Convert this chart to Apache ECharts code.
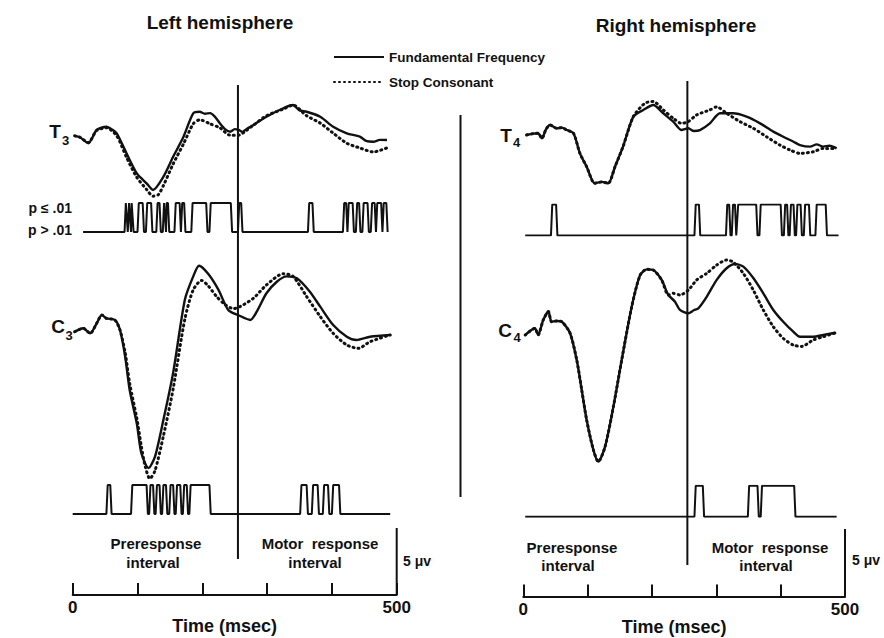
<!DOCTYPE html>
<html><head><meta charset="utf-8">
<script src="https://cdn.jsdelivr.net/npm/echarts@6/dist/echarts.min.js"></script>
<style>html,body{margin:0;padding:0;background:#fff}#c{width:884px;height:638px}</style>
</head><body><div id="c"></div>
<script>
// ---------- data (time in msec, amplitude in microvolts) ----------
const responseTime = 255;
const scaleBarUV = 5;
const tickValues = [0, 100, 200, 300, 400, 500];
const tickLabels = ['0', '', '', '', '', '500'];

const t3Fund = [[3,0.1],[11,0],[24,-0.45],[37,0.54],[52,0.78],[60,0.6],[68,0.29],[83,-1.2],[99,-2.7],[114,-3.44],[124,-3.94],[140,-2.95],[155,-1.46],[171,0.04],[186,1.78],[196,1.9],[204,1.75],[212,1.8],[220,1.5],[227,1.04],[235,0.6],[243,0.41],[250,0.6],[256,0.54],[262,0.4],[268,0.6],[279,0.91],[299,1.53],[325,2.16],[340,2.4],[350,2.0],[361,1.9],[382,1.53],[402,0.78],[423,0.29],[443,0.04],[454,-0.3],[464,-0.34],[474,-0.2],[485,-0.21]];
const t3Stop = [[3,0.1],[11,0],[24,-0.4],[37,0.5],[52,0.7],[68,0.1],[83,-1.5],[99,-3.0],[114,-3.9],[124,-4.4],[132,-4.3],[140,-3.6],[155,-2.0],[171,-0.5],[186,1.0],[196,1.3],[212,1.0],[227,0.7],[243,0.15],[256,0.15],[268,0.5],[279,0.9],[299,1.6],[325,2.1],[340,2.4],[361,1.6],[382,1.05],[402,0.3],[423,-0.45],[443,-0.8],[464,-1.1],[485,-0.8]];

const c3Fund = [[3,-0.13],[16,0.13],[27,-0.25],[37,0.5],[45,1.12],[52,0.87],[65,0.75],[73,0],[81,-2.0],[88,-4.5],[99,-7.0],[106,-9.2],[117,-10.3],[127,-9.45],[140,-6.7],[155,-3.2],[173,2.24],[186,4.0],[195,4.8],[209,4.2],[225,3.0],[240,1.5],[256,1.1],[274,0.75],[284,1.37],[299,2.74],[315,3.6],[330,4.0],[346,3.86],[366,2.86],[382,1.74],[402,0.37],[423,-0.5],[438,-0.75],[459,-0.5],[490,-0.37]];
const c3Stop = [[3,-0.13],[16,0.13],[27,-0.25],[37,0.5],[45,1.12],[52,0.87],[65,0.75],[73,0],[81,-1.7],[88,-4.0],[99,-6.6],[106,-8.7],[112,-10.2],[119,-11.1],[127,-10.5],[140,-7.9],[155,-4.4],[173,0.8],[186,3.0],[199,3.7],[209,3.3],[222,2.5],[235,1.9],[248,1.6],[258,1.74],[279,2.37],[299,3.36],[325,4.2],[340,4.0],[361,2.5],[382,1.0],[402,-0.25],[423,-1.12],[441,-1.37],[459,-0.87],[490,-0.37]];

const t4Fund = [[5,0],[15,0.1],[23,0.13],[29,-0.25],[35,0.4],[41.5,0.75],[52,0.5],[60,0.55],[67.5,0.37],[78,0.13],[88,-1.37],[98.5,-2.37],[111,-3.6],[122,-3.5],[132,-3.6],[142.5,-2.37],[155,-0.87],[171,1.37],[186.5,1.87],[202,2.24],[217.6,1.62],[233,1.0],[246,0.37],[256.5,0.5],[265,0.3],[274.6,0.37],[290,0.87],[305.7,1.62],[326,1.62],[347,1.37],[368,0.87],[388.6,0.25],[404,-0.13],[420,-0.5],[430,-0.75],[445.6,-0.87],[456,-0.7],[466,-0.87],[476,-0.8],[487,-1.0]];
const t4Stop = [[5,0],[15,0.1],[23,0.13],[29,-0.25],[35,0.4],[41.5,0.75],[52,0.5],[60,0.55],[67.5,0.37],[78,0.13],[88,-1.37],[98.5,-2.37],[111,-3.6],[122,-3.5],[132,-3.6],[142.5,-2.37],[155,-0.87],[171,1.37],[189,2.37],[202,2.5],[217.6,1.87],[233,1.25],[246,0.87],[256.5,1.0],[269.5,1.5],[290,1.87],[300.6,2.1],[316,1.62],[336.7,1.0],[357.5,0.5],[378,-0.13],[398.8,-0.75],[414.4,-1.12],[430,-1.37],[450.7,-1.25],[466,-1.0],[487,-1.0]];

const c4Fund = [[3,-0.15],[18,0.35],[23,-0.15],[31,0.97],[39,1.6],[44,0.84],[52,0.9],[60,0.84],[72.6,0],[83,-2.0],[90.8,-4.25],[98.5,-6.5],[108.8,-8.7],[116.6,-9.6],[127,-8.5],[140,-5.5],[153,-2.0],[168.5,1.96],[181.4,4.3],[191.8,4.75],[202,4.7],[215,3.96],[225.4,2.84],[235.8,2.34],[243.5,1.72],[256.5,1.47],[265,1.7],[272,1.84],[285,2.7],[300.6,3.96],[316,4.83],[329,5.15],[342,4.95],[357.5,4.1],[373,2.96],[388.6,1.72],[404,0.84],[419.6,0.1],[430,-0.28],[450.7,-0.28],[466,-0.15],[484.5,0.02]];
const c4Stop = [[3,-0.15],[18,0.35],[23,-0.15],[31,0.97],[39,1.6],[44,0.84],[52,0.9],[60,0.84],[72.6,0],[83,-2.0],[90.8,-4.25],[98.5,-6.5],[108.8,-8.7],[116.6,-9.6],[127,-8.5],[140,-5.5],[153,-2.0],[168.5,1.96],[181.4,4.3],[191.8,4.75],[202,4.7],[215,3.96],[225.4,2.84],[233,2.96],[243.5,2.84],[256.5,3.2],[269.5,3.96],[285,4.45],[300.6,5.07],[316,5.45],[326,5.3],[342,4.45],[357.5,3.2],[373,1.72],[388.6,0.47],[404,-0.4],[419.6,-0.9],[432.7,-1.0],[450.7,-0.52],[466,-0.28],[484.5,0]];

// intervals (msec) where p <= .01, plus start/end of each significance trace
const sigT3 = [[81,84],[86,89],[90,93],[101,109],[114,122],[130,135],[140,143],[144,148],[158,166],[168,173],[184,207],[212,245],[256,261],[364,371],[418,423],[425,433],[438,443],[448,456],[461,467],[469,477],[479,485]];
const sigT3Span = [16, 487];
const sigC3 = [[53,59],[91,115],[119,125],[129,135],[139,145],[150,156],[160,167],[171,177],[181,212],[352,362],[370,379],[387,395],[401,412]];
const sigC3Span = [0, 490];
const sigT4 = [[44,52],[267,274],[316,321],[325,330],[333,363],[368,401],[406,411],[415,421],[425,432],[437,445],[455,471]];
const sigT4Span = [3, 490];
const sigC4 = [[267,280],[350,365],[370,422]];
const sigC4Span = [3, 487];

// ---------- chart ----------
const INK = '#111';
const FONT = "'Liberation Sans', Arial, sans-serif";

function steps(intervals, span) {
  const r = 1;
  const out = [[span[0], 0]];
  intervals.forEach(([a, b]) => {
    out.push([a - r, 0], [a + r, 1], [b - r, 1], [b + r, 0]);
  });
  out.push([span[1], 0]);
  return out;
}

const PANELS = [{ left: 72.7, width: 324 }, { left: 523.3, width: 321.7 }];
// per panel: [top, height, ymin, ymax]
const LAYOUT = [
  [[97, 107.2, -5, 3], [203, 29, 0, 1], [249.6, 241.2, -12, 6], [485, 29, 0, 1], [85, 474, 0, 1], [528, 67, 0, 5]],
  [[94.8, 107.2, -5, 3], [204.5, 31, 0, 1], [252.6, 241.2, -12, 6], [485.7, 31, 0, 1], [81, 484, 0, 1], [529, 67.5, 0, 5]]
];

const grid = [], xAxis = [], yAxis = [];
LAYOUT.forEach((rows, p) => {
  rows.forEach((r, k) => {
    const isAxis = k === 5;
    grid.push({ left: PANELS[p].left, width: PANELS[p].width, top: r[0], height: r[1], outerBoundsMode: 'none', containLabel: false });
    yAxis.push({ type: 'value', gridIndex: grid.length - 1, min: r[2], max: r[3], show: false });
    xAxis.push(isAxis ? {
      type: 'value', gridIndex: grid.length - 1, min: 0, max: 500, interval: 100,
      axisLine: { show: true, lineStyle: { color: INK, width: 2 } },
      axisTick: { show: true, inside: true, length: 12, lineStyle: { color: INK, width: 2 } },
      splitLine: { show: false },
      axisLabel: { color: INK, fontSize: 17, fontWeight: 'bold', fontFamily: FONT, margin: 4,
        formatter: v => tickLabels[tickValues.indexOf(v)] || '' },
      name: 'Time (msec)', nameLocation: 'middle', nameGap: 14,
      nameTextStyle: { color: INK, fontSize: 18, fontWeight: 'bold', fontFamily: FONT, padding: [0, 20, 0, 0] }
    } : { type: 'value', gridIndex: grid.length - 1, min: 0, max: 500, show: false });
  });
});

const series = [];
function trace(name, data, g, dotted) {
  series.push({
    type: 'line', name, data, xAxisIndex: g, yAxisIndex: g, symbol: 'none', showSymbol: false,
    smooth: 0.25, silent: true, z: dotted ? 3 : 2, color: INK,
    itemStyle: { color: INK },
    lineStyle: dotted ? { color: INK, width: 3, type: [1, 4], cap: 'round' } : { color: INK, width: 2.4 }
  });
}
function plain(data, g, w) {
  series.push({ type: 'line', data, xAxisIndex: g, yAxisIndex: g, symbol: 'none', showSymbol: false,
    silent: true, color: INK, lineStyle: { color: INK, width: w } });
}
const FF = 'Fundamental Frequency', SC = 'Stop Consonant';
// left panel
trace(FF, t3Fund, 0, false); trace(SC, t3Stop, 0, true);
plain(steps(sigT3, sigT3Span), 1, 2);
trace(FF, c3Fund, 2, false); trace(SC, c3Stop, 2, true);
plain(steps(sigC3, sigC3Span), 3, 2);
plain([[responseTime, 0], [responseTime, 1]], 4, 2);
plain([[500, 0], [500, scaleBarUV]], 5, 2);
// right panel
trace(FF, t4Fund, 6, false); trace(SC, t4Stop, 6, true);
plain(steps(sigT4, sigT4Span), 7, 2);
trace(FF, c4Fund, 8, false); trace(SC, c4Stop, 8, true);
plain(steps(sigC4, sigC4Span), 9, 2);
plain([[responseTime, 0], [responseTime, 1]], 10, 2);
plain([[500, 0], [500, scaleBarUV]], 11, 2);

function txt(text, x, y, size, align) {
  return { type: 'text', x, y, silent: true,
    style: { text, fill: INK, font: `bold ${size}px ${FONT}`, textAlign: align || 'center', textVerticalAlign: 'middle' } };
}

const graphic = [
  txt('Left hemisphere', 220, 22, 19),
  txt('Right hemisphere', 676, 25, 19),
  txt('T', 55, 131, 19), txt('3', 65.5, 140, 13),
  txt('C', 58, 326, 19), txt('3', 69, 335, 13),
  txt('T', 506, 135, 19), txt('4', 516.5, 142, 13),
  txt('C', 505, 330, 19), txt('4', 517, 337, 13),
  txt('p ≤ .01', 72, 208, 14, 'right'),
  txt('p > .01', 72, 230, 14, 'right'),
  txt('Preresponse', 156, 543, 15), txt('interval', 153, 562, 15),
  txt('Motor  response', 320, 543, 15), txt('interval', 315, 562, 15),
  txt('Preresponse', 572, 547, 15), txt('interval', 568, 565, 15),
  txt('Motor  response', 770, 547, 15), txt('interval', 766, 565, 15),
  txt('5 μv', 403, 561, 14, 'left'),
  txt('5 μv', 852, 560, 14, 'left'),
  { type: 'line', silent: true, shape: { x1: 460.5, y1: 115, x2: 460.5, y2: 497 }, style: { stroke: INK, lineWidth: 2 } }
];

const chart = echarts.init(document.getElementById('c'), null, { renderer: 'svg' });
chart.setOption({
  backgroundColor: '#fff',
  animation: false,
  legend: {
    data: [FF, SC], orient: 'vertical', left: 328, top: 45, itemWidth: 50, itemHeight: 14, itemGap: 11,
    selectedMode: false, itemStyle: { opacity: 0 },
    textStyle: { color: INK, fontSize: 13.5, fontWeight: 'bold', fontFamily: FONT }
  },
  grid, xAxis, yAxis, series, graphic
});
</script></body></html>
